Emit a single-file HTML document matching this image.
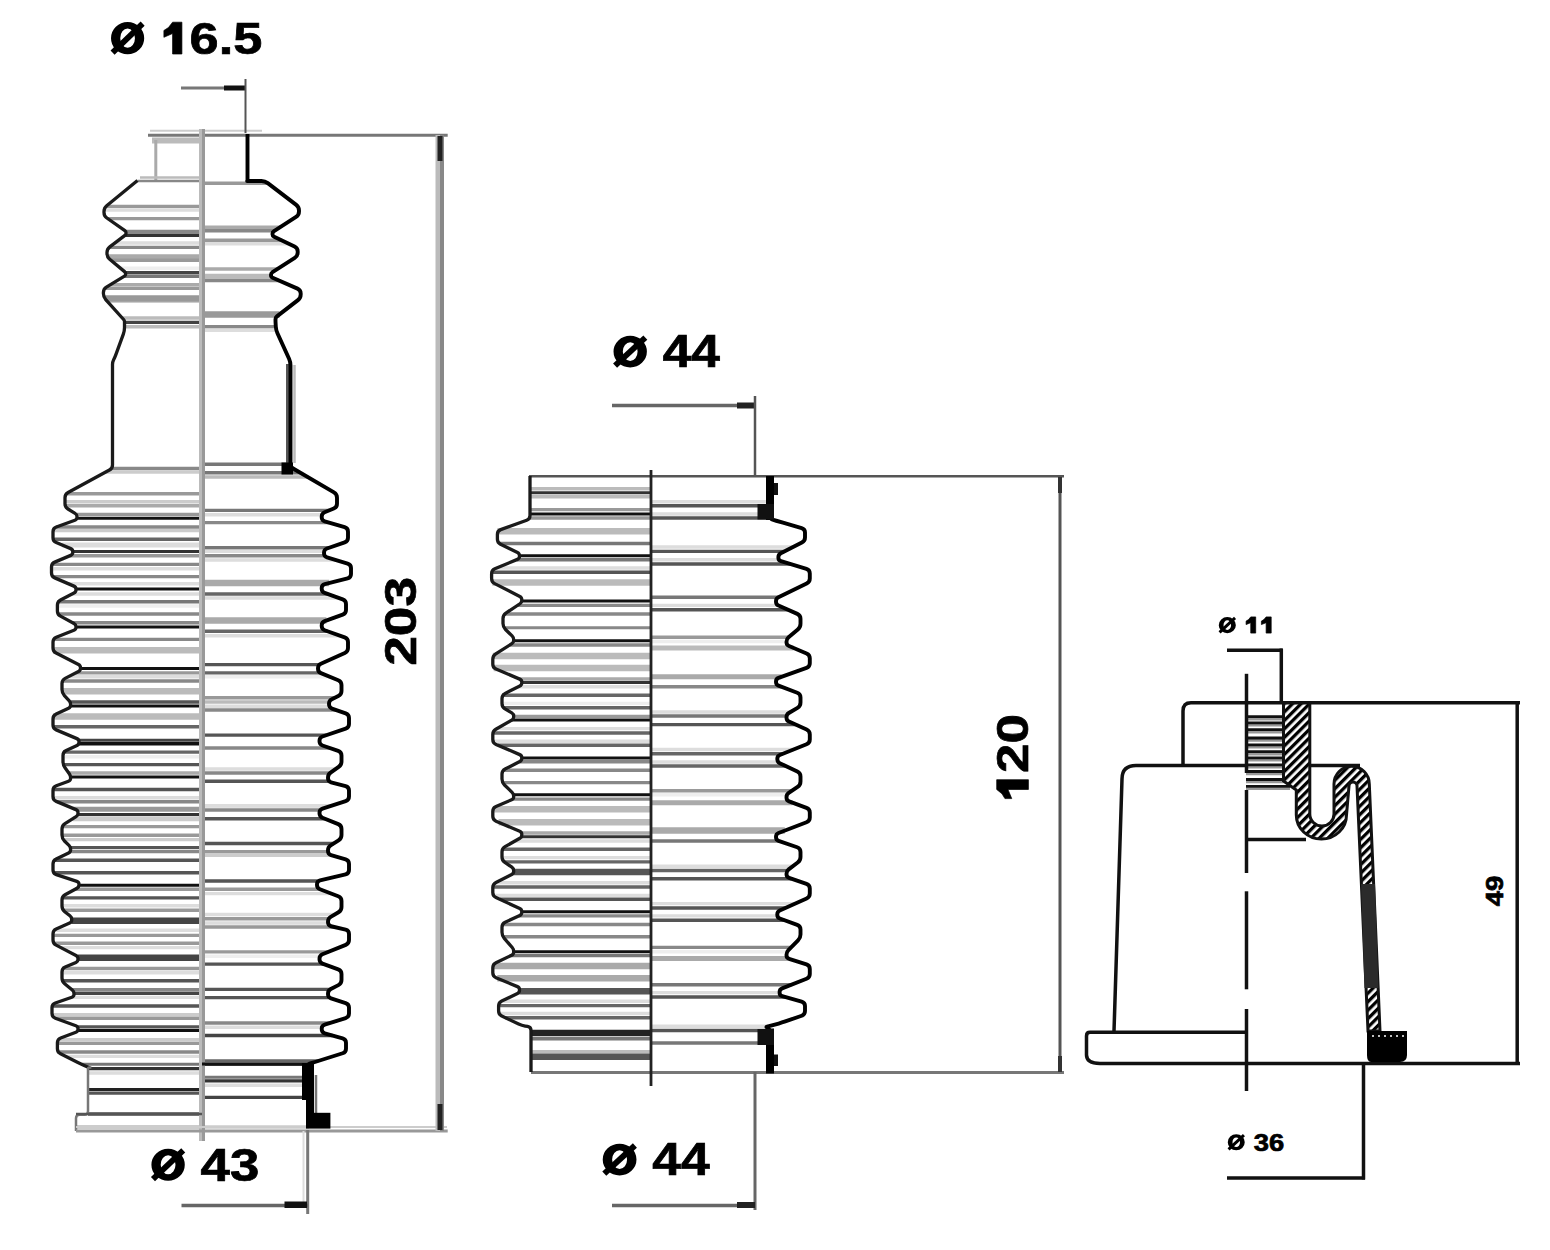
<!DOCTYPE html><html><head><meta charset="utf-8"><style>html,body{margin:0;padding:0;background:#fff;overflow:hidden}svg{display:block}</style></head><body>
<svg width="1550" height="1250" viewBox="0 0 1550 1250" shape-rendering="auto">
<defs><pattern id="hatch" patternUnits="userSpaceOnUse" width="6" height="6" patternTransform="rotate(-45)"><rect width="6" height="6" fill="#fff"/><rect x="0" y="0" width="6" height="3.3" fill="#000"/></pattern></defs>
<rect width="1550" height="1250" fill="#fff"/>
<line x1="150.0" y1="130.8" x2="262.0" y2="130.8" stroke="#ccc" stroke-width="2" />
<line x1="148.0" y1="135.2" x2="447.7" y2="135.2" stroke="#777" stroke-width="3" />
<rect x="152.0" y="137.5" width="50.0" height="6.0" fill="#bbb" />
<line x1="155.8" y1="140.0" x2="155.8" y2="180.0" stroke="#aaa" stroke-width="3" />
<line x1="140.0" y1="177.6" x2="202.0" y2="177.6" stroke="#bbb" stroke-width="2.5" />
<line x1="137.5" y1="181.0" x2="202.0" y2="181.0" stroke="#888" stroke-width="2.5" />
<line x1="105.9" y1="206.4" x2="202.5" y2="206.4" stroke="#999" stroke-width="3.4" />
<line x1="104.0" y1="210.0" x2="202.5" y2="210.0" stroke="#ddd" stroke-width="3.4" />
<line x1="107.7" y1="218.6" x2="202.5" y2="218.6" stroke="#999" stroke-width="3.4" />
<line x1="126.0" y1="231.5" x2="202.5" y2="231.5" stroke="#888" stroke-width="3.4" />
<line x1="125.1" y1="235.2" x2="202.5" y2="235.2" stroke="#333" stroke-width="3.4" />
<line x1="114.9" y1="243.0" x2="202.5" y2="243.0" stroke="#ddd" stroke-width="3.4" />
<line x1="109.1" y1="247.4" x2="202.5" y2="247.4" stroke="#888" stroke-width="3.4" />
<line x1="107.0" y1="256.7" x2="202.5" y2="256.7" stroke="#aaa" stroke-width="5" />
<line x1="111.0" y1="260.3" x2="202.5" y2="260.3" stroke="#999" stroke-width="3.4" />
<line x1="120.6" y1="268.3" x2="202.5" y2="268.3" stroke="#eee" stroke-width="3.4" />
<line x1="125.6" y1="272.6" x2="202.5" y2="272.6" stroke="#444" stroke-width="3.4" />
<line x1="124.4" y1="276.2" x2="202.5" y2="276.2" stroke="#777" stroke-width="3.4" />
<line x1="110.3" y1="284.8" x2="202.5" y2="284.8" stroke="#aaa" stroke-width="3.4" />
<line x1="104.4" y1="288.4" x2="202.5" y2="288.4" stroke="#999" stroke-width="3.4" />
<line x1="104.1" y1="297.8" x2="202.5" y2="297.8" stroke="#999" stroke-width="5" />
<line x1="107.4" y1="301.4" x2="202.5" y2="301.4" stroke="#ccc" stroke-width="3.4" />
<line x1="105.5" y1="299.3" x2="202.5" y2="299.3" stroke="#999" stroke-width="5" />
<line x1="122.3" y1="318.0" x2="202.5" y2="318.0" stroke="#bbb" stroke-width="3.4" />
<line x1="124.5" y1="322.4" x2="202.5" y2="322.4" stroke="#444" stroke-width="3.4" />
<line x1="124.5" y1="326.7" x2="202.5" y2="326.7" stroke="#bbb" stroke-width="3.4" />
<line x1="112.3" y1="468.5" x2="202.5" y2="468.5" stroke="#888" stroke-width="3.4" />
<line x1="105.9" y1="472.0" x2="202.5" y2="472.0" stroke="#ccc" stroke-width="3.4" />
<line x1="65.7" y1="493.8" x2="202.5" y2="493.8" stroke="#999" stroke-width="3.4" />
<line x1="65.0" y1="501.8" x2="202.5" y2="501.8" stroke="#ccc" stroke-width="3.4" />
<line x1="65.0" y1="505.8" x2="202.5" y2="505.8" stroke="#aaa" stroke-width="3.4" />
<line x1="76.8" y1="514.4" x2="202.5" y2="514.4" stroke="#999" stroke-width="3.4" />
<line x1="77.0" y1="518.3" x2="202.5" y2="518.3" stroke="#111" stroke-width="3" />
<line x1="56.3" y1="527.0" x2="202.5" y2="527.0" stroke="#888" stroke-width="3.4" />
<line x1="53.0" y1="530.6" x2="202.5" y2="530.6" stroke="#ccc" stroke-width="3.4" />
<line x1="53.0" y1="539.2" x2="202.5" y2="539.2" stroke="#666" stroke-width="3.4" />
<line x1="62.1" y1="545.0" x2="202.5" y2="545.0" stroke="#ddd" stroke-width="5" />
<line x1="72.8" y1="551.4" x2="202.5" y2="551.4" stroke="#333" stroke-width="3" />
<line x1="69.7" y1="555.8" x2="202.5" y2="555.8" stroke="#999" stroke-width="3.4" />
<line x1="51.5" y1="564.4" x2="202.5" y2="564.4" stroke="#888" stroke-width="3.4" />
<line x1="51.5" y1="568.7" x2="202.5" y2="568.7" stroke="#ddd" stroke-width="3.4" />
<line x1="51.7" y1="576.6" x2="202.5" y2="576.6" stroke="#888" stroke-width="3.4" />
<line x1="68.5" y1="583.8" x2="202.5" y2="583.8" stroke="#ddd" stroke-width="3.4" />
<line x1="76.0" y1="588.9" x2="202.5" y2="588.9" stroke="#111" stroke-width="3" />
<line x1="72.1" y1="594.0" x2="202.5" y2="594.0" stroke="#ddd" stroke-width="3.4" />
<line x1="57.4" y1="601.8" x2="202.5" y2="601.8" stroke="#777" stroke-width="3.4" />
<line x1="57.4" y1="606.0" x2="202.5" y2="606.0" stroke="#eee" stroke-width="3.4" />
<line x1="57.4" y1="614.0" x2="202.5" y2="614.0" stroke="#888" stroke-width="3.4" />
<line x1="72.7" y1="622.7" x2="202.5" y2="622.7" stroke="#888" stroke-width="3.4" />
<line x1="76.0" y1="627.0" x2="202.5" y2="627.0" stroke="#111" stroke-width="3" />
<line x1="53.0" y1="639.4" x2="202.5" y2="639.4" stroke="#888" stroke-width="3.4" />
<line x1="53.0" y1="650.2" x2="202.5" y2="650.2" stroke="#bbb" stroke-width="6.5" />
<line x1="80.5" y1="668.6" x2="202.5" y2="668.6" stroke="#111" stroke-width="3" />
<line x1="75.8" y1="672.9" x2="202.5" y2="672.9" stroke="#999" stroke-width="3.4" />
<line x1="68.2" y1="676.8" x2="202.5" y2="676.8" stroke="#ddd" stroke-width="3.4" />
<line x1="62.0" y1="681.0" x2="202.5" y2="681.0" stroke="#888" stroke-width="3.4" />
<line x1="62.0" y1="691.2" x2="202.5" y2="691.2" stroke="#bbb" stroke-width="6.5" />
<line x1="70.4" y1="702.0" x2="202.5" y2="702.0" stroke="#555" stroke-width="3.4" />
<line x1="70.6" y1="706.0" x2="202.5" y2="706.0" stroke="#111" stroke-width="3" />
<line x1="53.0" y1="716.4" x2="202.5" y2="716.4" stroke="#bbb" stroke-width="6.5" />
<line x1="53.0" y1="726.8" x2="202.5" y2="726.8" stroke="#666" stroke-width="3.4" />
<line x1="79.0" y1="740.2" x2="202.5" y2="740.2" stroke="#444" stroke-width="3" />
<line x1="79.0" y1="743.8" x2="202.5" y2="743.8" stroke="#111" stroke-width="3.4" />
<line x1="63.0" y1="752.1" x2="202.5" y2="752.1" stroke="#666" stroke-width="3.4" />
<line x1="63.0" y1="756.7" x2="202.5" y2="756.7" stroke="#eee" stroke-width="3.4" />
<line x1="63.0" y1="764.6" x2="202.5" y2="764.6" stroke="#555" stroke-width="3.4" />
<line x1="68.8" y1="773.0" x2="202.5" y2="773.0" stroke="#aaa" stroke-width="3.4" />
<line x1="70.6" y1="776.9" x2="202.5" y2="776.9" stroke="#111" stroke-width="3" />
<line x1="53.0" y1="789.5" x2="202.5" y2="789.5" stroke="#555" stroke-width="3.4" />
<line x1="53.0" y1="797.7" x2="202.5" y2="797.7" stroke="#ddd" stroke-width="3.4" />
<line x1="57.3" y1="801.8" x2="202.5" y2="801.8" stroke="#888" stroke-width="3.4" />
<line x1="73.2" y1="808.5" x2="202.5" y2="808.5" stroke="#999" stroke-width="3.4" />
<line x1="76.8" y1="810.0" x2="202.5" y2="810.0" stroke="#999" stroke-width="3.4" />
<line x1="78.0" y1="814.4" x2="202.5" y2="814.4" stroke="#333" stroke-width="3" />
<line x1="72.9" y1="818.7" x2="202.5" y2="818.7" stroke="#ccc" stroke-width="5" />
<line x1="62.0" y1="826.6" x2="202.5" y2="826.6" stroke="#999" stroke-width="3.4" />
<line x1="62.0" y1="835.3" x2="202.5" y2="835.3" stroke="#999" stroke-width="3.4" />
<line x1="63.1" y1="839.6" x2="202.5" y2="839.6" stroke="#ccc" stroke-width="3.4" />
<line x1="70.6" y1="847.5" x2="202.5" y2="847.5" stroke="#555" stroke-width="3" />
<line x1="70.6" y1="851.5" x2="202.5" y2="851.5" stroke="#888" stroke-width="3.4" />
<line x1="53.6" y1="860.2" x2="202.5" y2="860.2" stroke="#555" stroke-width="3.4" />
<line x1="53.0" y1="872.7" x2="202.5" y2="872.7" stroke="#555" stroke-width="3.4" />
<line x1="79.0" y1="885.2" x2="202.5" y2="885.2" stroke="#111" stroke-width="3" />
<line x1="75.0" y1="889.3" x2="202.5" y2="889.3" stroke="#999" stroke-width="3.4" />
<line x1="62.0" y1="897.9" x2="202.5" y2="897.9" stroke="#555" stroke-width="3.4" />
<line x1="62.0" y1="905.8" x2="202.5" y2="905.8" stroke="#ddd" stroke-width="3.4" />
<line x1="62.9" y1="910.2" x2="202.5" y2="910.2" stroke="#999" stroke-width="3.4" />
<line x1="71.7" y1="920.7" x2="202.5" y2="920.7" stroke="#444" stroke-width="6.5" />
<line x1="53.5" y1="930.3" x2="202.5" y2="930.3" stroke="#ddd" stroke-width="3.4" />
<line x1="53.0" y1="935.4" x2="202.5" y2="935.4" stroke="#999" stroke-width="3.4" />
<line x1="53.0" y1="943.3" x2="202.5" y2="943.3" stroke="#999" stroke-width="3.4" />
<line x1="60.9" y1="947.6" x2="202.5" y2="947.6" stroke="#ddd" stroke-width="3.4" />
<line x1="78.0" y1="957.7" x2="202.5" y2="957.7" stroke="#444" stroke-width="6.5" />
<line x1="62.0" y1="968.5" x2="202.5" y2="968.5" stroke="#999" stroke-width="3.4" />
<line x1="62.0" y1="972.8" x2="202.5" y2="972.8" stroke="#ddd" stroke-width="3.4" />
<line x1="62.0" y1="980.8" x2="202.5" y2="980.8" stroke="#555" stroke-width="3.4" />
<line x1="71.5" y1="989.4" x2="202.5" y2="989.4" stroke="#888" stroke-width="3" />
<line x1="74.0" y1="993.3" x2="202.5" y2="993.3" stroke="#444" stroke-width="3.4" />
<line x1="71.4" y1="997.4" x2="202.5" y2="997.4" stroke="#ddd" stroke-width="3.4" />
<line x1="52.0" y1="1006.0" x2="202.5" y2="1006.0" stroke="#555" stroke-width="3.4" />
<line x1="52.0" y1="1014.6" x2="202.5" y2="1014.6" stroke="#ccc" stroke-width="3.4" />
<line x1="55.0" y1="1018.2" x2="202.5" y2="1018.2" stroke="#999" stroke-width="3.4" />
<line x1="78.0" y1="1026.9" x2="202.5" y2="1026.9" stroke="#555" stroke-width="3.4" />
<line x1="78.0" y1="1030.5" x2="202.5" y2="1030.5" stroke="#111" stroke-width="3" />
<line x1="57.4" y1="1039.8" x2="202.5" y2="1039.8" stroke="#ccc" stroke-width="3.4" />
<line x1="57.4" y1="1043.4" x2="202.5" y2="1043.4" stroke="#999" stroke-width="3.4" />
<line x1="57.4" y1="1052.0" x2="202.5" y2="1052.0" stroke="#888" stroke-width="3.4" />
<line x1="65.8" y1="1056.4" x2="202.5" y2="1056.4" stroke="#ddd" stroke-width="3.4" />
<line x1="81.7" y1="1064.3" x2="202.5" y2="1064.3" stroke="#777" stroke-width="3" />
<line x1="88.0" y1="1068.6" x2="202.5" y2="1068.6" stroke="#333" stroke-width="3.4" />
<line x1="88.0" y1="1073.0" x2="202.5" y2="1073.0" stroke="#ddd" stroke-width="3.4" />
<line x1="88.0" y1="1089.5" x2="202.5" y2="1089.5" stroke="#222" stroke-width="3" />
<line x1="88.0" y1="1093.1" x2="202.5" y2="1093.1" stroke="#555" stroke-width="3.4" />
<line x1="88.0" y1="1114.0" x2="202.5" y2="1114.0" stroke="#555" stroke-width="3.4" />
<line x1="76.0" y1="1127.0" x2="202.5" y2="1127.0" stroke="#bbb" stroke-width="3.4" />
<line x1="202.5" y1="183.3" x2="268.0" y2="183.3" stroke="#999" stroke-width="3.4" />
<line x1="202.5" y1="227.2" x2="280.0" y2="227.2" stroke="#aaa" stroke-width="3.4" />
<line x1="202.5" y1="230.8" x2="274.4" y2="230.8" stroke="#888" stroke-width="3.4" />
<line x1="202.5" y1="240.2" x2="281.3" y2="240.2" stroke="#999" stroke-width="3.4" />
<line x1="202.5" y1="243.8" x2="288.9" y2="243.8" stroke="#ddd" stroke-width="3.4" />
<line x1="202.5" y1="269.0" x2="277.3" y2="269.0" stroke="#aaa" stroke-width="3.4" />
<line x1="202.5" y1="276.2" x2="271.0" y2="276.2" stroke="#bbb" stroke-width="5" />
<line x1="202.5" y1="280.5" x2="279.0" y2="280.5" stroke="#888" stroke-width="3.4" />
<line x1="202.5" y1="314.4" x2="279.5" y2="314.4" stroke="#999" stroke-width="6.5" />
<line x1="202.5" y1="326.7" x2="275.8" y2="326.7" stroke="#888" stroke-width="3.4" />
<line x1="202.5" y1="330.3" x2="276.1" y2="330.3" stroke="#ddd" stroke-width="3.4" />
<line x1="202.5" y1="464.2" x2="290.5" y2="464.2" stroke="#777" stroke-width="3.4" />
<line x1="202.5" y1="472.8" x2="300.4" y2="472.8" stroke="#777" stroke-width="3.4" />
<line x1="202.5" y1="477.0" x2="307.6" y2="477.0" stroke="#bbb" stroke-width="3.4" />
<line x1="202.5" y1="510.4" x2="329.2" y2="510.4" stroke="#777" stroke-width="3.4" />
<line x1="202.5" y1="514.7" x2="321.7" y2="514.7" stroke="#ddd" stroke-width="3.4" />
<line x1="202.5" y1="522.6" x2="328.9" y2="522.6" stroke="#888" stroke-width="3.4" />
<line x1="202.5" y1="547.8" x2="328.9" y2="547.8" stroke="#777" stroke-width="3.4" />
<line x1="202.5" y1="551.4" x2="324.0" y2="551.4" stroke="#ddd" stroke-width="3.4" />
<line x1="202.5" y1="555.8" x2="324.0" y2="555.8" stroke="#888" stroke-width="3.4" />
<line x1="202.5" y1="560.0" x2="335.8" y2="560.0" stroke="#ddd" stroke-width="3.4" />
<line x1="202.5" y1="583.0" x2="329.2" y2="583.0" stroke="#aaa" stroke-width="6.5" />
<line x1="202.5" y1="594.0" x2="327.6" y2="594.0" stroke="#666" stroke-width="3.4" />
<line x1="202.5" y1="598.0" x2="338.9" y2="598.0" stroke="#ddd" stroke-width="3.4" />
<line x1="202.5" y1="620.5" x2="326.4" y2="620.5" stroke="#aaa" stroke-width="6.5" />
<line x1="202.5" y1="631.3" x2="327.6" y2="631.3" stroke="#666" stroke-width="3.4" />
<line x1="202.5" y1="635.7" x2="340.1" y2="635.7" stroke="#ddd" stroke-width="3.4" />
<line x1="202.5" y1="664.6" x2="318.9" y2="664.6" stroke="#555" stroke-width="3.4" />
<line x1="202.5" y1="672.9" x2="320.2" y2="672.9" stroke="#666" stroke-width="3.4" />
<line x1="202.5" y1="676.8" x2="329.9" y2="676.8" stroke="#eee" stroke-width="3.4" />
<line x1="202.5" y1="697.7" x2="334.8" y2="697.7" stroke="#999" stroke-width="3.4" />
<line x1="202.5" y1="702.0" x2="329.0" y2="702.0" stroke="#bbb" stroke-width="3.4" />
<line x1="202.5" y1="706.3" x2="329.0" y2="706.3" stroke="#ddd" stroke-width="3.4" />
<line x1="202.5" y1="710.0" x2="336.1" y2="710.0" stroke="#888" stroke-width="3.4" />
<line x1="202.5" y1="735.1" x2="326.6" y2="735.1" stroke="#555" stroke-width="3.4" />
<line x1="202.5" y1="748.0" x2="329.9" y2="748.0" stroke="#888" stroke-width="3.4" />
<line x1="202.5" y1="769.0" x2="335.7" y2="769.0" stroke="#ddd" stroke-width="3.4" />
<line x1="202.5" y1="773.0" x2="330.1" y2="773.0" stroke="#888" stroke-width="3.4" />
<line x1="202.5" y1="781.2" x2="328.0" y2="781.2" stroke="#555" stroke-width="3.4" />
<line x1="202.5" y1="805.7" x2="331.3" y2="805.7" stroke="#ddd" stroke-width="3.4" />
<line x1="202.5" y1="806.0" x2="330.4" y2="806.0" stroke="#ddd" stroke-width="3.4" />
<line x1="202.5" y1="810.0" x2="319.5" y2="810.0" stroke="#888" stroke-width="3.4" />
<line x1="202.5" y1="818.7" x2="324.9" y2="818.7" stroke="#555" stroke-width="3.4" />
<line x1="202.5" y1="843.5" x2="333.7" y2="843.5" stroke="#555" stroke-width="3.4" />
<line x1="202.5" y1="851.8" x2="328.0" y2="851.8" stroke="#999" stroke-width="3.4" />
<line x1="202.5" y1="855.4" x2="332.3" y2="855.4" stroke="#ccc" stroke-width="3.4" />
<line x1="202.5" y1="881.0" x2="317.4" y2="881.0" stroke="#555" stroke-width="3.4" />
<line x1="202.5" y1="889.3" x2="320.1" y2="889.3" stroke="#999" stroke-width="3.4" />
<line x1="202.5" y1="893.6" x2="331.3" y2="893.6" stroke="#ddd" stroke-width="3.4" />
<line x1="202.5" y1="914.5" x2="334.8" y2="914.5" stroke="#ddd" stroke-width="3.4" />
<line x1="202.5" y1="918.8" x2="328.0" y2="918.8" stroke="#999" stroke-width="3.4" />
<line x1="202.5" y1="923.0" x2="328.0" y2="923.0" stroke="#ddd" stroke-width="3.4" />
<line x1="202.5" y1="927.0" x2="334.3" y2="927.0" stroke="#999" stroke-width="3.4" />
<line x1="202.5" y1="951.9" x2="328.4" y2="951.9" stroke="#999" stroke-width="3.4" />
<line x1="202.5" y1="956.2" x2="319.5" y2="956.2" stroke="#eee" stroke-width="3.4" />
<line x1="202.5" y1="964.1" x2="323.9" y2="964.1" stroke="#555" stroke-width="3.4" />
<line x1="202.5" y1="989.4" x2="330.1" y2="989.4" stroke="#555" stroke-width="3.4" />
<line x1="202.5" y1="997.6" x2="328.3" y2="997.6" stroke="#555" stroke-width="3.4" />
<line x1="202.5" y1="1023.0" x2="329.8" y2="1023.0" stroke="#888" stroke-width="3.4" />
<line x1="202.5" y1="1027.3" x2="321.7" y2="1027.3" stroke="#ddd" stroke-width="3.4" />
<line x1="202.5" y1="1035.5" x2="332.6" y2="1035.5" stroke="#444" stroke-width="3.4" />
<line x1="202.5" y1="1060.7" x2="319.1" y2="1060.7" stroke="#666" stroke-width="3" />
<line x1="202.5" y1="1064.3" x2="309.0" y2="1064.3" stroke="#111" stroke-width="3" />
<line x1="202.5" y1="1077.3" x2="309.0" y2="1077.3" stroke="#777" stroke-width="3" />
<line x1="202.5" y1="1080.9" x2="309.0" y2="1080.9" stroke="#333" stroke-width="3.4" />
<line x1="202.5" y1="1085.2" x2="309.0" y2="1085.2" stroke="#ddd" stroke-width="3.4" />
<line x1="202.5" y1="1097.4" x2="309.0" y2="1097.4" stroke="#444" stroke-width="3.4" />
<line x1="202.5" y1="1127.0" x2="309.0" y2="1127.0" stroke="#ccc" stroke-width="3.4" />
<rect x="199.0" y="129.0" width="3.0" height="1012.0" fill="#bbb" />
<rect x="202.0" y="129.0" width="3.0" height="1012.0" fill="#999" />
<path d="M 137.50,180.40 L 106.70,205.77 Q 104.00,208.00 104.00,211.50 L 104.00,212.50 Q 104.00,216.00 106.86,218.02 L 124.90,230.72 Q 126.00,231.50 126.00,232.85 L 126.00,233.15 Q 126.00,234.50 124.93,235.32 L 109.78,246.88 Q 107.00,249.00 107.00,252.50 L 107.00,253.50 Q 107.00,257.00 109.69,259.24 L 124.56,271.64 Q 125.60,272.50 125.60,273.85 L 125.60,274.15 Q 125.60,275.50 124.45,276.20 L 106.39,287.18 Q 103.40,289.00 103.40,292.50 L 103.40,293.50 Q 103.40,297.00 105.74,299.60 L 123.60,319.50 Q 124.50,320.50 124.50,321.85 L 124.50,322.15 Q 124.50,323.50 124.50,324.85 L 124.50,327.62 Q 124.50,331.00 123.34,334.17 L 115.86,354.64 Q 115.00,357.00 113.88,359.25 L 113.62,359.75 Q 112.50,362.00 112.50,364.52 L 112.50,464.90 Q 112.50,468.40 109.42,470.07 L 68.08,492.53 Q 65.00,494.20 65.00,497.70 L 65.00,503.70 Q 65.00,507.20 67.99,509.02 L 75.08,513.33 Q 77.00,514.50 77.00,516.75 L 77.00,517.25 Q 77.00,519.50 74.88,520.27 L 56.29,527.01 Q 53.00,528.20 53.00,531.70 L 53.00,537.70 Q 53.00,541.20 56.23,542.55 L 70.72,548.63 Q 72.80,549.50 72.80,551.75 L 72.80,552.25 Q 72.80,554.50 70.73,555.38 L 54.72,562.14 Q 51.50,563.50 51.50,567.00 L 51.50,573.00 Q 51.50,576.50 54.72,577.88 L 73.93,586.11 Q 76.00,587.00 76.00,589.25 L 76.00,589.75 Q 76.00,592.00 74.00,593.02 L 60.52,599.91 Q 57.40,601.50 57.40,605.00 L 57.40,611.00 Q 57.40,614.50 60.48,616.16 L 74.02,623.43 Q 76.00,624.50 76.00,626.75 L 76.00,627.25 Q 76.00,629.50 73.90,630.32 L 56.26,637.22 Q 53.00,638.50 53.00,642.00 L 53.00,648.00 Q 53.00,651.50 56.12,653.09 L 78.49,664.48 Q 80.50,665.50 80.50,667.75 L 80.50,668.25 Q 80.50,670.50 78.50,671.53 L 65.11,678.40 Q 62.00,680.00 62.00,683.50 L 62.00,689.50 Q 62.00,693.00 64.39,695.56 L 69.06,700.56 Q 70.60,702.20 70.60,704.45 L 70.60,704.95 Q 70.60,707.20 68.56,708.16 L 56.17,714.01 Q 53.00,715.50 53.00,719.00 L 53.00,725.00 Q 53.00,728.50 56.22,729.86 L 76.93,738.62 Q 79.00,739.50 79.00,741.75 L 79.00,742.25 Q 79.00,744.50 76.96,745.44 L 66.18,750.43 Q 63.00,751.90 63.00,755.40 L 63.00,761.40 Q 63.00,764.90 65.04,767.74 L 69.29,773.67 Q 70.60,775.50 70.60,777.75 L 70.60,778.25 Q 70.60,780.50 68.49,781.28 L 56.28,785.79 Q 53.00,787.00 53.00,790.50 L 53.00,796.50 Q 53.00,800.00 56.23,801.36 L 75.93,809.63 Q 78.00,810.50 78.00,812.75 L 78.00,813.25 Q 78.00,815.50 76.09,816.69 L 64.97,823.65 Q 62.00,825.50 62.00,829.00 L 62.00,835.00 Q 62.00,838.50 64.49,840.96 L 69.00,845.42 Q 70.60,847.00 70.60,849.25 L 70.60,849.75 Q 70.60,852.00 68.57,852.98 L 56.15,858.98 Q 53.00,860.50 53.00,864.00 L 53.00,870.00 Q 53.00,873.50 56.32,874.60 L 76.86,881.39 Q 79.00,882.10 79.00,884.35 L 79.00,884.85 Q 79.00,887.10 77.03,888.19 L 65.06,894.81 Q 62.00,896.50 62.00,900.00 L 62.00,906.00 Q 62.00,909.50 64.74,911.68 L 69.94,915.80 Q 71.70,917.20 71.70,919.45 L 71.70,919.95 Q 71.70,922.20 69.64,923.11 L 56.20,929.08 Q 53.00,930.50 53.00,934.00 L 53.00,940.00 Q 53.00,943.50 56.11,945.11 L 76.00,955.46 Q 78.00,956.50 78.00,958.75 L 78.00,959.25 Q 78.00,961.50 75.94,962.40 L 65.21,967.10 Q 62.00,968.50 62.00,972.00 L 62.00,978.00 Q 62.00,981.50 64.69,983.74 L 72.27,990.06 Q 74.00,991.50 74.00,993.75 L 74.00,994.25 Q 74.00,996.50 71.87,997.23 L 55.31,1002.96 Q 52.00,1004.10 52.00,1007.60 L 52.00,1013.60 Q 52.00,1017.10 55.29,1018.29 L 75.88,1025.74 Q 78.00,1026.50 78.00,1028.75 L 78.00,1029.25 Q 78.00,1031.50 75.89,1032.29 L 60.68,1037.97 Q 57.40,1039.20 57.40,1042.70 L 57.40,1048.70 Q 57.40,1052.20 60.53,1053.77 L 77.87,1062.43 Q 81.00,1064.00 84.20,1065.42 L 90.00,1068.00" fill="none" stroke="#1a1a1a" stroke-width="3.3" stroke-linejoin="round" />
<path d="M 91.40,1067.60 L 89.53,1067.60 Q 88.00,1067.60 88.00,1069.13 L 88.00,1111.30 Q 88.00,1114.80 84.50,1114.80 L 79.50,1114.80 Q 76.00,1114.80 76.00,1118.30 L 76.00,1131.00" fill="none" stroke="#777" stroke-width="2.5" stroke-linejoin="round" />
<line x1="76.0" y1="1114.0" x2="202.0" y2="1114.0" stroke="#555" stroke-width="2.5" />
<line x1="76.0" y1="1127.0" x2="447.0" y2="1127.0" stroke="#ccc" stroke-width="2" />
<line x1="76.0" y1="1131.0" x2="447.7" y2="1131.0" stroke="#999" stroke-width="3" />
<rect x="286.0" y="364.0" width="3.0" height="100.0" fill="#555" />
<line x1="294.5" y1="365.0" x2="294.5" y2="463.0" stroke="#bbb" stroke-width="2.5" />
<path d="M 247.50,134.00 L 247.50,180.78 Q 247.50,181.00 247.28,181.00 L 247.22,181.00 Q 247.00,181.00 247.22,181.00 L 261.50,181.00 Q 265.00,181.00 267.78,183.13 L 296.22,204.87 Q 299.00,207.00 299.00,210.50 L 299.00,211.50 Q 299.00,215.00 296.05,216.89 L 274.02,231.03 Q 272.50,232.00 272.50,233.80 L 272.50,234.20 Q 272.50,236.00 274.13,236.77 L 294.54,246.50 Q 297.70,248.00 297.70,251.50 L 297.70,252.50 Q 297.70,256.00 294.75,257.88 L 272.52,272.03 Q 271.00,273.00 271.00,274.80 L 271.00,275.20 Q 271.00,277.00 272.65,277.72 L 297.49,288.60 Q 300.70,290.00 300.70,293.50 L 300.70,294.50 Q 300.70,298.00 297.93,300.14 L 276.92,316.40 Q 275.50,317.50 275.50,319.30 L 275.50,319.70 Q 275.50,321.50 275.61,323.30 L 275.79,326.51 Q 276.00,330.00 277.44,333.19 L 289.06,358.81 Q 290.50,362.00 290.50,365.50 L 290.50,463.50 Q 290.50,467.00 293.52,468.77 L 333.98,492.43 Q 337.00,494.20 337.00,497.70 L 337.00,503.70 Q 337.00,507.20 333.76,508.53 L 324.61,512.30 Q 321.70,513.50 321.70,516.65 L 321.70,517.35 Q 321.70,520.50 324.72,521.39 L 344.64,527.22 Q 348.00,528.20 348.00,531.70 L 348.00,537.70 Q 348.00,541.20 344.69,542.34 L 326.98,548.47 Q 324.00,549.50 324.00,552.65 L 324.00,553.35 Q 324.00,556.50 327.02,557.39 L 347.64,563.51 Q 351.00,564.50 351.00,568.00 L 351.00,574.00 Q 351.00,577.50 347.61,578.36 L 324.75,584.13 Q 321.70,584.90 321.70,588.05 L 321.70,588.75 Q 321.70,591.90 324.67,592.95 L 342.70,599.33 Q 346.00,600.50 346.00,604.00 L 346.00,610.00 Q 346.00,613.50 342.70,614.68 L 324.67,621.14 Q 321.70,622.20 321.70,625.35 L 321.70,626.05 Q 321.70,629.20 324.67,630.25 L 344.70,637.33 Q 348.00,638.50 348.00,642.00 L 348.00,648.00 Q 348.00,651.50 344.81,652.94 L 320.87,663.71 Q 318.00,665.00 318.00,668.15 L 318.00,668.85 Q 318.00,672.00 320.92,673.18 L 338.26,680.19 Q 341.50,681.50 341.50,685.00 L 341.50,691.00 Q 341.50,694.50 338.34,696.01 L 331.84,699.14 Q 329.00,700.50 329.00,703.65 L 329.00,704.35 Q 329.00,707.50 331.97,708.54 L 345.70,713.34 Q 349.00,714.50 349.00,718.00 L 349.00,724.00 Q 349.00,727.50 345.69,728.62 L 322.48,736.49 Q 319.50,737.50 319.50,740.65 L 319.50,741.35 Q 319.50,744.50 322.49,745.50 L 338.18,750.78 Q 341.50,751.90 341.50,755.40 L 341.50,761.40 Q 341.50,764.90 338.65,766.93 L 330.57,772.67 Q 328.00,774.50 328.00,777.65 L 328.00,778.35 Q 328.00,781.50 331.05,782.30 L 345.61,786.11 Q 349.00,787.00 349.00,790.50 L 349.00,796.50 Q 349.00,800.00 345.67,801.07 L 322.50,808.53 Q 319.50,809.50 319.50,812.65 L 319.50,813.35 Q 319.50,816.50 322.42,817.69 L 338.26,824.17 Q 341.50,825.50 341.50,829.00 L 341.50,835.00 Q 341.50,838.50 338.55,840.38 L 330.66,845.41 Q 328.00,847.10 328.00,850.25 L 328.00,850.95 Q 328.00,854.10 331.01,855.02 L 345.65,859.48 Q 349.00,860.50 349.00,864.00 L 349.00,870.00 Q 349.00,873.50 345.59,874.31 L 320.06,880.37 Q 317.00,881.10 317.00,884.25 L 317.00,884.95 Q 317.00,888.10 319.94,889.23 L 338.23,896.25 Q 341.50,897.50 341.50,901.00 L 341.50,907.00 Q 341.50,910.50 338.49,912.28 L 330.71,916.89 Q 328.00,918.50 328.00,921.65 L 328.00,922.35 Q 328.00,925.50 331.06,926.23 L 345.60,929.69 Q 349.00,930.50 349.00,934.00 L 349.00,940.00 Q 349.00,943.50 345.76,944.82 L 322.42,954.31 Q 319.50,955.50 319.50,958.65 L 319.50,959.35 Q 319.50,962.50 322.46,963.58 L 338.21,969.30 Q 341.50,970.50 341.50,974.00 L 341.50,980.00 Q 341.50,983.50 338.39,985.11 L 330.80,989.05 Q 328.00,990.50 328.00,993.65 L 328.00,994.35 Q 328.00,997.50 331.01,998.44 L 345.66,1003.05 Q 349.00,1004.10 349.00,1007.60 L 349.00,1013.60 Q 349.00,1017.10 345.65,1018.13 L 324.71,1024.57 Q 321.70,1025.50 321.70,1028.65 L 321.70,1029.35 Q 321.70,1032.50 324.74,1033.34 L 342.63,1038.27 Q 346.00,1039.20 346.00,1042.70 L 346.00,1048.70 Q 346.00,1052.20 342.66,1053.25 L 318.12,1061.01 Q 315.00,1062.00 311.85,1062.90 L 308.00,1064.00" fill="none" stroke="#000" stroke-width="3.9" stroke-linejoin="round" />
<rect x="281.5" y="462.5" width="11.5" height="12.0" fill="#000" />
<line x1="202.0" y1="1064.0" x2="309.0" y2="1064.0" stroke="#111" stroke-width="3" />
<rect x="302.0" y="1063.0" width="12.0" height="37.0" fill="#000" />
<rect x="306.0" y="1099.0" width="8.0" height="15.0" fill="#000" />
<line x1="316.0" y1="1075.0" x2="316.0" y2="1113.0" stroke="#777" stroke-width="2.5" />
<rect x="306.0" y="1112.8" width="24.4" height="15.8" fill="#000" />
<line x1="181.0" y1="88.0" x2="246.0" y2="88.0" stroke="#777" stroke-width="3" />
<rect x="224.0" y="85.5" width="21.0" height="5.0" fill="#111" />
<line x1="245.5" y1="79.0" x2="245.5" y2="133.0" stroke="#555" stroke-width="2" />
<rect x="435.5" y="135.0" width="4.5" height="996.0" fill="#bbb" />
<rect x="440.0" y="135.0" width="4.0" height="996.0" fill="#888" />
<rect x="437.5" y="136.0" width="5.0" height="25.0" fill="#222" />
<rect x="437.5" y="1104.0" width="5.0" height="26.0" fill="#222" />
<line x1="303.5" y1="1131.0" x2="303.5" y2="1208.0" stroke="#ddd" stroke-width="2" />
<line x1="307.7" y1="1130.0" x2="307.7" y2="1214.0" stroke="#777" stroke-width="3" />
<line x1="181.5" y1="1205.6" x2="308.0" y2="1205.6" stroke="#666" stroke-width="3.5" />
<rect x="284.5" y="1201.5" width="22.5" height="6.5" fill="#111" />
<path fill="#000" fill-rule="evenodd" d="M 111.01,38.15 A 16.59,16.22 0 1 0 144.19,38.15 A 16.59,16.22 0 1 0 111.01,38.15 Z M 120.25,38.15 A 7.35,9.60 0 1 0 134.95,38.15 A 7.35,9.60 0 1 0 120.25,38.15 Z"/>
<line x1="112.56" y1="52.64" x2="142.64" y2="23.66" stroke="#000" stroke-width="5.81"/>
<polygon points="172.59,22.20 181.90,22.20 181.90,54.00 172.59,54.00 172.59,33.49 163.90,37.30 163.90,30.47 168.49,27.51" fill="#000" stroke="#000" stroke-width="0.7" stroke-linejoin="round"/>
<text transform="translate(189.61,53.55) scale(0.5235,0.4479)" x="0" y="0" font-family="Liberation Sans" font-weight="bold" font-size="100" fill="#000" stroke="#000" stroke-width="1.56">6.5</text>
<text transform="translate(415.85,665.80) rotate(-90) scale(0.5325,0.4507)" x="0" y="0" font-family="Liberation Sans" font-weight="bold" font-size="100" fill="#000" stroke="#000" stroke-width="1.55">203</text>
<path fill="#000" fill-rule="evenodd" d="M 151.42,1164.75 A 16.68,16.02 0 1 0 184.78,1164.75 A 16.68,16.02 0 1 0 151.42,1164.75 Z M 160.70,1164.75 A 7.40,9.48 0 1 0 175.50,1164.75 A 7.40,9.48 0 1 0 160.70,1164.75 Z"/>
<line x1="152.97" y1="1179.03" x2="183.23" y2="1150.47" stroke="#000" stroke-width="5.85"/>
<text transform="translate(200.54,1180.65) scale(0.5276,0.4549)" x="0" y="0" font-family="Liberation Sans" font-weight="bold" font-size="100" fill="#000" stroke="#000" stroke-width="1.54">43</text>
<line x1="529.0" y1="476.2" x2="1064.0" y2="476.2" stroke="#555" stroke-width="2.5" />
<line x1="530.0" y1="488.8" x2="651.0" y2="488.8" stroke="#bbb" stroke-width="3.4" />
<line x1="530.0" y1="492.8" x2="651.0" y2="492.8" stroke="#333" stroke-width="3" />
<line x1="530.0" y1="496.7" x2="651.0" y2="496.7" stroke="#bbb" stroke-width="3.4" />
<line x1="530.0" y1="509.6" x2="651.0" y2="509.6" stroke="#999" stroke-width="3.4" />
<line x1="530.0" y1="514.0" x2="651.0" y2="514.0" stroke="#111" stroke-width="3" />
<line x1="530.0" y1="518.0" x2="651.0" y2="518.0" stroke="#999" stroke-width="3.4" />
<line x1="497.4" y1="531.2" x2="651.0" y2="531.2" stroke="#bbb" stroke-width="6.5" />
<line x1="498.8" y1="543.5" x2="651.0" y2="543.5" stroke="#777" stroke-width="3.4" />
<line x1="519.5" y1="555.7" x2="651.0" y2="555.7" stroke="#111" stroke-width="3" />
<line x1="516.6" y1="559.7" x2="651.0" y2="559.7" stroke="#777" stroke-width="3.4" />
<line x1="496.5" y1="568.0" x2="651.0" y2="568.0" stroke="#ddd" stroke-width="3.4" />
<line x1="491.6" y1="572.3" x2="651.0" y2="572.3" stroke="#555" stroke-width="3.4" />
<line x1="492.4" y1="582.4" x2="651.0" y2="582.4" stroke="#bbb" stroke-width="6.5" />
<line x1="521.8" y1="601.0" x2="651.0" y2="601.0" stroke="#111" stroke-width="3" />
<line x1="517.4" y1="605.4" x2="651.0" y2="605.4" stroke="#888" stroke-width="3.4" />
<line x1="504.5" y1="614.0" x2="651.0" y2="614.0" stroke="#888" stroke-width="3.4" />
<line x1="503.7" y1="627.7" x2="651.0" y2="627.7" stroke="#888" stroke-width="3" />
<line x1="513.7" y1="640.7" x2="651.0" y2="640.7" stroke="#111" stroke-width="3" />
<line x1="509.7" y1="645.0" x2="651.0" y2="645.0" stroke="#888" stroke-width="3.4" />
<line x1="492.8" y1="655.9" x2="651.0" y2="655.9" stroke="#bbb" stroke-width="6.5" />
<line x1="493.7" y1="668.1" x2="651.0" y2="668.1" stroke="#bbb" stroke-width="6.5" />
<line x1="519.4" y1="679.0" x2="651.0" y2="679.0" stroke="#aaa" stroke-width="3.4" />
<line x1="521.8" y1="682.5" x2="651.0" y2="682.5" stroke="#333" stroke-width="3" />
<line x1="518.2" y1="686.8" x2="651.0" y2="686.8" stroke="#ddd" stroke-width="3.4" />
<line x1="502.0" y1="695.2" x2="651.0" y2="695.2" stroke="#666" stroke-width="3.4" />
<line x1="502.0" y1="703.4" x2="651.0" y2="703.4" stroke="#eee" stroke-width="3.4" />
<line x1="503.2" y1="707.7" x2="651.0" y2="707.7" stroke="#666" stroke-width="3.4" />
<line x1="513.7" y1="716.4" x2="651.0" y2="716.4" stroke="#999" stroke-width="3.4" />
<line x1="512.0" y1="720.0" x2="651.0" y2="720.0" stroke="#111" stroke-width="3" />
<line x1="497.0" y1="728.6" x2="651.0" y2="728.6" stroke="#ddd" stroke-width="3.4" />
<line x1="492.8" y1="733.0" x2="651.0" y2="733.0" stroke="#666" stroke-width="3.4" />
<line x1="492.8" y1="741.3" x2="651.0" y2="741.3" stroke="#ddd" stroke-width="3.4" />
<line x1="497.9" y1="745.2" x2="651.0" y2="745.2" stroke="#666" stroke-width="3.4" />
<line x1="521.8" y1="758.1" x2="651.0" y2="758.1" stroke="#111" stroke-width="3" />
<line x1="519.4" y1="761.7" x2="651.0" y2="761.7" stroke="#888" stroke-width="3.4" />
<line x1="502.6" y1="770.3" x2="651.0" y2="770.3" stroke="#888" stroke-width="3.4" />
<line x1="502.0" y1="782.6" x2="651.0" y2="782.6" stroke="#888" stroke-width="3.4" />
<line x1="513.7" y1="794.8" x2="651.0" y2="794.8" stroke="#111" stroke-width="3" />
<line x1="513.2" y1="799.1" x2="651.0" y2="799.1" stroke="#888" stroke-width="3.4" />
<line x1="492.8" y1="809.2" x2="651.0" y2="809.2" stroke="#bbb" stroke-width="6.5" />
<line x1="498.6" y1="822.3" x2="651.0" y2="822.3" stroke="#bbb" stroke-width="6.5" />
<line x1="521.8" y1="833.0" x2="651.0" y2="833.0" stroke="#aaa" stroke-width="3.4" />
<line x1="521.8" y1="836.7" x2="651.0" y2="836.7" stroke="#333" stroke-width="3" />
<line x1="515.1" y1="841.0" x2="651.0" y2="841.0" stroke="#ddd" stroke-width="3.4" />
<line x1="502.0" y1="849.3" x2="651.0" y2="849.3" stroke="#666" stroke-width="3.4" />
<line x1="502.0" y1="857.6" x2="651.0" y2="857.6" stroke="#ddd" stroke-width="3.4" />
<line x1="504.2" y1="861.9" x2="651.0" y2="861.9" stroke="#666" stroke-width="3.4" />
<line x1="513.7" y1="872.0" x2="651.0" y2="872.0" stroke="#555" stroke-width="6.5" />
<line x1="495.2" y1="882.8" x2="651.0" y2="882.8" stroke="#ddd" stroke-width="3.4" />
<line x1="492.8" y1="887.0" x2="651.0" y2="887.0" stroke="#666" stroke-width="3.4" />
<line x1="492.8" y1="895.4" x2="651.0" y2="895.4" stroke="#ddd" stroke-width="3.4" />
<line x1="499.9" y1="899.3" x2="651.0" y2="899.3" stroke="#555" stroke-width="3.4" />
<line x1="521.8" y1="911.8" x2="651.0" y2="911.8" stroke="#111" stroke-width="3" />
<line x1="518.8" y1="915.9" x2="651.0" y2="915.9" stroke="#888" stroke-width="3.4" />
<line x1="502.0" y1="924.5" x2="651.0" y2="924.5" stroke="#888" stroke-width="3.4" />
<line x1="503.0" y1="936.8" x2="651.0" y2="936.8" stroke="#888" stroke-width="3.4" />
<line x1="513.7" y1="951.7" x2="651.0" y2="951.7" stroke="#111" stroke-width="3" />
<line x1="510.8" y1="955.6" x2="651.0" y2="955.6" stroke="#777" stroke-width="3.4" />
<line x1="492.8" y1="966.1" x2="651.0" y2="966.1" stroke="#aaa" stroke-width="6.5" />
<line x1="497.3" y1="978.2" x2="651.0" y2="978.2" stroke="#aaa" stroke-width="6.5" />
<line x1="519.5" y1="991.2" x2="651.0" y2="991.2" stroke="#555" stroke-width="6.5" />
<line x1="501.3" y1="1001.3" x2="651.0" y2="1001.3" stroke="#ddd" stroke-width="3.4" />
<line x1="498.6" y1="1005.6" x2="651.0" y2="1005.6" stroke="#666" stroke-width="3.4" />
<line x1="498.6" y1="1013.5" x2="651.0" y2="1013.5" stroke="#ddd" stroke-width="3.4" />
<line x1="505.4" y1="1017.8" x2="651.0" y2="1017.8" stroke="#666" stroke-width="3.4" />
<line x1="531.0" y1="1033.0" x2="651.0" y2="1033.0" stroke="#222" stroke-width="6.5" />
<line x1="531.0" y1="1038.7" x2="651.0" y2="1038.7" stroke="#777" stroke-width="3.4" />
<line x1="531.0" y1="1051.7" x2="651.0" y2="1051.7" stroke="#bbb" stroke-width="3.4" />
<line x1="531.0" y1="1056.7" x2="651.0" y2="1056.7" stroke="#555" stroke-width="6.5" />
<line x1="651.0" y1="501.7" x2="770.0" y2="501.7" stroke="#ddd" stroke-width="3.4" />
<line x1="651.0" y1="505.7" x2="770.0" y2="505.7" stroke="#555" stroke-width="3.4" />
<line x1="651.0" y1="514.0" x2="770.0" y2="514.0" stroke="#ddd" stroke-width="3.4" />
<line x1="651.0" y1="518.0" x2="770.0" y2="518.0" stroke="#555" stroke-width="3.4" />
<line x1="651.0" y1="547.0" x2="793.1" y2="547.0" stroke="#ddd" stroke-width="3.4" />
<line x1="651.0" y1="551.4" x2="784.4" y2="551.4" stroke="#555" stroke-width="3.4" />
<line x1="651.0" y1="559.7" x2="778.4" y2="559.7" stroke="#ddd" stroke-width="3.4" />
<line x1="651.0" y1="564.0" x2="790.2" y2="564.0" stroke="#555" stroke-width="3.4" />
<line x1="651.0" y1="597.2" x2="778.7" y2="597.2" stroke="#777" stroke-width="3.4" />
<line x1="651.0" y1="605.4" x2="778.0" y2="605.4" stroke="#ddd" stroke-width="3.4" />
<line x1="651.0" y1="609.7" x2="787.8" y2="609.7" stroke="#555" stroke-width="3.4" />
<line x1="651.0" y1="637.2" x2="788.7" y2="637.2" stroke="#999" stroke-width="3.4" />
<line x1="651.0" y1="641.5" x2="786.5" y2="641.5" stroke="#eee" stroke-width="3.4" />
<line x1="651.0" y1="648.0" x2="793.6" y2="648.0" stroke="#bbb" stroke-width="5" />
<line x1="651.0" y1="676.8" x2="781.4" y2="676.8" stroke="#aaa" stroke-width="5" />
<line x1="651.0" y1="686.8" x2="781.5" y2="686.8" stroke="#888" stroke-width="3.4" />
<line x1="651.0" y1="712.0" x2="790.5" y2="712.0" stroke="#ddd" stroke-width="3.4" />
<line x1="651.0" y1="716.0" x2="786.5" y2="716.0" stroke="#777" stroke-width="3.4" />
<line x1="651.0" y1="724.6" x2="795.7" y2="724.6" stroke="#555" stroke-width="3.4" />
<line x1="651.0" y1="749.5" x2="793.5" y2="749.5" stroke="#ddd" stroke-width="3.4" />
<line x1="651.0" y1="753.8" x2="782.8" y2="753.8" stroke="#666" stroke-width="3.4" />
<line x1="651.0" y1="762.0" x2="777.3" y2="762.0" stroke="#ddd" stroke-width="3.4" />
<line x1="651.0" y1="766.0" x2="785.7" y2="766.0" stroke="#666" stroke-width="3.4" />
<line x1="651.0" y1="790.8" x2="792.0" y2="790.8" stroke="#999" stroke-width="3.4" />
<line x1="651.0" y1="794.8" x2="786.5" y2="794.8" stroke="#eee" stroke-width="3.4" />
<line x1="651.0" y1="802.7" x2="792.5" y2="802.7" stroke="#aaa" stroke-width="5" />
<line x1="651.0" y1="830.6" x2="784.8" y2="830.6" stroke="#aaa" stroke-width="6.5" />
<line x1="651.0" y1="841.0" x2="778.9" y2="841.0" stroke="#777" stroke-width="3.4" />
<line x1="651.0" y1="866.2" x2="792.8" y2="866.2" stroke="#ddd" stroke-width="3.4" />
<line x1="651.0" y1="870.5" x2="787.2" y2="870.5" stroke="#666" stroke-width="3.4" />
<line x1="651.0" y1="878.7" x2="791.5" y2="878.7" stroke="#555" stroke-width="3.4" />
<line x1="651.0" y1="903.6" x2="795.1" y2="903.6" stroke="#ddd" stroke-width="3.4" />
<line x1="651.0" y1="908.0" x2="785.3" y2="908.0" stroke="#555" stroke-width="3.4" />
<line x1="651.0" y1="915.9" x2="777.3" y2="915.9" stroke="#ddd" stroke-width="3.4" />
<line x1="651.0" y1="920.2" x2="784.5" y2="920.2" stroke="#555" stroke-width="3.4" />
<line x1="651.0" y1="947.4" x2="791.1" y2="947.4" stroke="#888" stroke-width="3.4" />
<line x1="651.0" y1="951.7" x2="786.8" y2="951.7" stroke="#eee" stroke-width="3.4" />
<line x1="651.0" y1="958.5" x2="788.1" y2="958.5" stroke="#aaa" stroke-width="5" />
<line x1="651.0" y1="984.7" x2="791.5" y2="984.7" stroke="#777" stroke-width="3.4" />
<line x1="651.0" y1="992.6" x2="779.6" y2="992.6" stroke="#ddd" stroke-width="3.4" />
<line x1="651.0" y1="997.0" x2="785.2" y2="997.0" stroke="#555" stroke-width="3.4" />
<line x1="651.0" y1="1026.2" x2="768.6" y2="1026.2" stroke="#ddd" stroke-width="3.4" />
<line x1="651.0" y1="1030.5" x2="769.0" y2="1030.5" stroke="#555" stroke-width="3.4" />
<line x1="651.0" y1="1043.0" x2="769.0" y2="1043.0" stroke="#777" stroke-width="3.4" />
<line x1="531.0" y1="1072.5" x2="1064.0" y2="1072.5" stroke="#777" stroke-width="3" />
<line x1="651.0" y1="470.0" x2="651.0" y2="1086.0" stroke="#222" stroke-width="2.8" />
<path d="M 530.00,476.00 L 530.00,515.50 Q 530.00,519.00 526.71,520.19 L 500.69,529.61 Q 497.40,530.80 497.40,534.30 L 497.40,539.30 Q 497.40,542.80 500.55,544.33 L 517.47,552.52 Q 519.50,553.50 519.50,555.75 L 519.50,556.25 Q 519.50,558.50 517.42,559.36 L 494.84,568.67 Q 491.60,570.00 491.60,573.50 L 491.60,578.50 Q 491.60,582.00 494.71,583.60 L 519.80,596.47 Q 521.80,597.50 521.80,599.75 L 521.80,600.25 Q 521.80,602.50 519.93,603.75 L 505.91,613.06 Q 503.00,615.00 503.00,618.50 L 503.00,623.50 Q 503.00,627.00 505.50,629.45 L 512.09,635.92 Q 513.70,637.50 513.70,639.75 L 513.70,640.25 Q 513.70,642.50 511.80,643.70 L 495.76,653.83 Q 492.80,655.70 492.80,659.20 L 492.80,664.20 Q 492.80,667.70 496.02,669.07 L 519.73,679.12 Q 521.80,680.00 521.80,682.25 L 521.80,682.75 Q 521.80,685.00 519.79,686.01 L 505.12,693.42 Q 502.00,695.00 502.00,698.50 L 502.00,703.50 Q 502.00,707.00 505.00,708.80 L 511.77,712.84 Q 513.70,714.00 513.70,716.25 L 513.70,716.75 Q 513.70,719.00 511.75,720.12 L 495.84,729.26 Q 492.80,731.00 492.80,734.50 L 492.80,739.50 Q 492.80,743.00 496.01,744.39 L 519.73,754.61 Q 521.80,755.50 521.80,757.75 L 521.80,758.25 Q 521.80,760.50 519.80,761.52 L 505.12,769.01 Q 502.00,770.60 502.00,774.10 L 502.00,779.10 Q 502.00,782.60 504.52,785.03 L 512.08,792.34 Q 513.70,793.90 513.70,796.15 L 513.70,796.65 Q 513.70,798.90 511.63,799.78 L 496.02,806.43 Q 492.80,807.80 492.80,811.30 L 492.80,816.30 Q 492.80,819.80 496.02,821.18 L 519.73,831.32 Q 521.80,832.20 521.80,834.45 L 521.80,834.95 Q 521.80,837.20 519.84,838.31 L 505.05,846.68 Q 502.00,848.40 502.00,851.90 L 502.00,856.90 Q 502.00,860.40 504.88,862.39 L 511.85,867.22 Q 513.70,868.50 513.70,870.75 L 513.70,871.25 Q 513.70,873.50 511.69,874.51 L 495.93,882.43 Q 492.80,884.00 492.80,887.50 L 492.80,892.50 Q 492.80,896.00 495.97,897.48 L 519.76,908.55 Q 521.80,909.50 521.80,911.75 L 521.80,912.25 Q 521.80,914.50 519.76,915.45 L 505.17,922.23 Q 502.00,923.70 502.00,927.20 L 502.00,932.20 Q 502.00,935.70 504.29,938.34 L 512.23,947.50 Q 513.70,949.20 513.70,951.45 L 513.70,951.95 Q 513.70,954.20 511.67,955.18 L 495.95,962.78 Q 492.80,964.30 492.80,967.80 L 492.80,972.80 Q 492.80,976.30 496.03,977.65 L 517.43,986.63 Q 519.50,987.50 519.50,989.75 L 519.50,990.25 Q 519.50,992.50 517.47,993.48 L 501.75,1001.08 Q 498.60,1002.60 498.60,1006.10 L 498.60,1011.10 Q 498.60,1014.60 501.77,1016.09 L 518.63,1024.01 Q 521.80,1025.50 525.25,1026.06 L 527.55,1026.44 Q 531.00,1027.00 531.00,1030.50 L 531.00,1072.00" fill="none" stroke="#1a1a1a" stroke-width="3.3" stroke-linejoin="round" />
<path d="M 770.00,476.00 L 770.00,515.50 Q 770.00,519.00 773.37,519.95 L 776.23,520.75 Q 779.60,521.70 782.96,522.67 L 801.64,528.03 Q 805.00,529.00 805.00,532.50 L 805.00,537.50 Q 805.00,541.00 801.87,542.57 L 780.81,553.19 Q 778.40,554.40 778.40,557.10 L 778.40,557.70 Q 778.40,560.40 780.98,561.19 L 806.45,568.98 Q 809.80,570.00 809.80,573.50 L 809.80,578.50 Q 809.80,582.00 806.65,583.54 L 778.43,597.32 Q 776.00,598.50 776.00,601.20 L 776.00,601.80 Q 776.00,604.50 778.47,605.59 L 797.30,613.89 Q 800.50,615.30 800.50,618.80 L 800.50,623.80 Q 800.50,627.30 797.81,629.54 L 788.57,637.27 Q 786.50,639.00 786.50,641.70 L 786.50,642.30 Q 786.50,645.00 788.99,646.05 L 806.57,653.44 Q 809.80,654.80 809.80,658.30 L 809.80,663.30 Q 809.80,666.80 806.50,667.96 L 778.55,677.80 Q 776.00,678.70 776.00,681.40 L 776.00,682.00 Q 776.00,684.70 778.52,685.66 L 797.23,692.76 Q 800.50,694.00 800.50,697.50 L 800.50,702.50 Q 800.50,706.00 797.50,707.80 L 788.82,713.01 Q 786.50,714.40 786.50,717.10 L 786.50,717.70 Q 786.50,720.40 788.96,721.52 L 806.61,729.55 Q 809.80,731.00 809.80,734.50 L 809.80,739.50 Q 809.80,743.00 806.55,744.30 L 779.81,755.00 Q 777.30,756.00 777.30,758.70 L 777.30,759.30 Q 777.30,762.00 779.74,763.16 L 797.34,771.50 Q 800.50,773.00 800.50,776.50 L 800.50,781.50 Q 800.50,785.00 797.60,786.97 L 788.73,792.98 Q 786.50,794.50 786.50,797.20 L 786.50,797.80 Q 786.50,800.50 789.04,801.43 L 806.51,807.80 Q 809.80,809.00 809.80,812.50 L 809.80,817.50 Q 809.80,821.00 806.53,822.26 L 778.52,833.03 Q 776.00,834.00 776.00,836.70 L 776.00,837.30 Q 776.00,840.00 778.55,840.88 L 797.19,847.26 Q 800.50,848.40 800.50,851.90 L 800.50,856.90 Q 800.50,860.40 797.71,862.51 L 788.65,869.37 Q 786.50,871.00 786.50,873.70 L 786.50,874.30 Q 786.50,877.00 789.05,877.88 L 806.49,883.86 Q 809.80,885.00 809.80,888.50 L 809.80,893.50 Q 809.80,897.00 806.61,898.43 L 779.76,910.49 Q 777.30,911.60 777.30,914.30 L 777.30,914.90 Q 777.30,917.60 779.84,918.52 L 797.21,924.81 Q 800.50,926.00 800.50,929.50 L 800.50,934.50 Q 800.50,938.00 798.03,940.47 L 788.41,950.09 Q 786.50,952.00 786.50,954.70 L 786.50,955.30 Q 786.50,958.00 789.07,958.83 L 806.47,964.43 Q 809.80,965.50 809.80,969.00 L 809.80,974.00 Q 809.80,977.50 806.54,978.78 L 782.11,988.41 Q 779.60,989.40 779.60,992.10 L 779.60,992.70 Q 779.60,995.40 782.20,996.14 L 801.63,1001.65 Q 805.00,1002.60 805.00,1006.10 L 805.00,1011.10 Q 805.00,1014.60 801.69,1015.75 L 785.31,1021.45 Q 782.00,1022.60 778.62,1023.51 L 767.14,1026.59 Q 765.60,1027.00 767.13,1027.45 L 767.47,1027.55 Q 769.00,1028.00 769.00,1029.59 L 769.00,1072.00" fill="none" stroke="#000" stroke-width="3.9" stroke-linejoin="round" />
<rect x="766.0" y="476.0" width="8.0" height="44.0" fill="#000" />
<rect x="774.0" y="483.0" width="4.0" height="12.0" fill="#111" />
<rect x="757.5" y="504.0" width="16.5" height="15.5" fill="#111" />
<rect x="766.0" y="1028.5" width="8.0" height="45.0" fill="#000" />
<rect x="774.0" y="1054.5" width="4.0" height="11.5" fill="#111" />
<rect x="757.5" y="1029.0" width="16.5" height="16.0" fill="#111" />
<line x1="612.0" y1="405.6" x2="755.0" y2="405.6" stroke="#666" stroke-width="3.5" />
<rect x="737.0" y="402.5" width="18.0" height="6.0" fill="#222" />
<line x1="755.0" y1="396.0" x2="755.0" y2="476.0" stroke="#555" stroke-width="2.5" />
<line x1="1060.0" y1="476.0" x2="1060.0" y2="1072.0" stroke="#555" stroke-width="3" />
<rect x="1058.0" y="477.0" width="4.0" height="16.0" fill="#333" />
<rect x="1058.0" y="1056.0" width="4.0" height="16.0" fill="#333" />
<line x1="755.0" y1="1072.0" x2="755.0" y2="1210.0" stroke="#666" stroke-width="3" />
<line x1="612.0" y1="1205.5" x2="755.0" y2="1205.5" stroke="#666" stroke-width="3.5" />
<rect x="737.0" y="1202.0" width="18.0" height="6.0" fill="#222" />
<path fill="#000" fill-rule="evenodd" d="M 613.52,351.60 A 16.68,15.78 0 1 0 646.88,351.60 A 16.68,15.78 0 1 0 613.52,351.60 Z M 622.80,351.60 A 7.40,9.34 0 1 0 637.60,351.60 A 7.40,9.34 0 1 0 622.80,351.60 Z"/>
<line x1="615.07" y1="365.63" x2="645.33" y2="337.57" stroke="#000" stroke-width="5.85"/>
<text transform="translate(662.67,366.90) scale(0.5156,0.4551)" x="0" y="0" font-family="Liberation Sans" font-weight="bold" font-size="100" fill="#000" stroke="#000" stroke-width="1.54">44</text>
<polygon points="996.70,789.47 996.70,779.70 1028.40,779.70 1028.40,789.47 1007.95,789.47 1011.76,798.60 1004.94,798.60 1001.99,793.78" fill="#000" stroke="#000" stroke-width="0.7" stroke-linejoin="round"/>
<text transform="translate(1027.95,772.89) rotate(-90) scale(0.5288,0.4465)" x="0" y="0" font-family="Liberation Sans" font-weight="bold" font-size="100" fill="#000" stroke="#000" stroke-width="1.57">20</text>
<path fill="#000" fill-rule="evenodd" d="M 602.72,1159.55 A 16.88,15.83 0 1 0 636.48,1159.55 A 16.88,15.83 0 1 0 602.72,1159.55 Z M 612.12,1159.55 A 7.48,9.37 0 1 0 627.08,1159.55 A 7.48,9.37 0 1 0 612.12,1159.55 Z"/>
<line x1="604.29" y1="1173.61" x2="634.91" y2="1145.49" stroke="#000" stroke-width="5.92"/>
<text transform="translate(652.27,1174.80) scale(0.5156,0.4551)" x="0" y="0" font-family="Liberation Sans" font-weight="bold" font-size="100" fill="#000" stroke="#000" stroke-width="1.54">44</text>
<path d="M 1183,765.5 L 1183,711 Q 1183,702.8 1191,702.8 L 1520,702.8" fill="none" stroke="#111" stroke-width="3.5"/>
<path d="M 1246.5,765.5 L 1136,765.5 Q 1122,765.5 1122,779 L 1114,1031.3" fill="none" stroke="#111" stroke-width="3.5"/>
<line x1="1309.0" y1="765.5" x2="1360.0" y2="765.5" stroke="#111" stroke-width="3.5" />
<path d="M 1246.5,1032.3 L 1090,1032.3 Q 1086.5,1032.3 1086.5,1036 L 1086.5,1055 Q 1086.5,1063.4 1100,1063.4 L 1520,1063.4" fill="none" stroke="#111" stroke-width="3.5"/>
<line x1="1517.2" y1="702.0" x2="1517.2" y2="1064.0" stroke="#111" stroke-width="3.5" />
<line x1="1246.5" y1="839.4" x2="1306.0" y2="839.4" stroke="#111" stroke-width="3.5" />
<line x1="1246.0" y1="719.1" x2="1290.0" y2="719.1" stroke="#999" stroke-width="2.6" />
<line x1="1246.0" y1="716.7" x2="1290.0" y2="716.7" stroke="#111" stroke-width="2.8" />
<line x1="1246.0" y1="725.2" x2="1286.0" y2="725.2" stroke="#999" stroke-width="2.6" />
<line x1="1246.0" y1="722.8" x2="1286.0" y2="722.8" stroke="#111" stroke-width="2.8" />
<line x1="1246.0" y1="732.1" x2="1290.0" y2="732.1" stroke="#999" stroke-width="2.6" />
<line x1="1246.0" y1="729.7" x2="1290.0" y2="729.7" stroke="#111" stroke-width="2.8" />
<line x1="1246.0" y1="740.4" x2="1286.0" y2="740.4" stroke="#999" stroke-width="2.6" />
<line x1="1246.0" y1="738.0" x2="1286.0" y2="738.0" stroke="#111" stroke-width="2.8" />
<line x1="1246.0" y1="747.3" x2="1290.0" y2="747.3" stroke="#999" stroke-width="2.6" />
<line x1="1246.0" y1="744.9" x2="1290.0" y2="744.9" stroke="#111" stroke-width="2.8" />
<line x1="1246.0" y1="754.1" x2="1286.0" y2="754.1" stroke="#999" stroke-width="2.6" />
<line x1="1246.0" y1="751.7" x2="1286.0" y2="751.7" stroke="#111" stroke-width="2.8" />
<line x1="1246.0" y1="760.2" x2="1290.0" y2="760.2" stroke="#999" stroke-width="2.6" />
<line x1="1246.0" y1="757.8" x2="1290.0" y2="757.8" stroke="#111" stroke-width="2.8" />
<line x1="1246.0" y1="767.2" x2="1286.0" y2="767.2" stroke="#999" stroke-width="2.6" />
<line x1="1246.0" y1="764.8" x2="1286.0" y2="764.8" stroke="#111" stroke-width="2.8" />
<line x1="1246.0" y1="773.9" x2="1290.0" y2="773.9" stroke="#999" stroke-width="2.6" />
<line x1="1246.0" y1="771.5" x2="1290.0" y2="771.5" stroke="#111" stroke-width="2.8" />
<line x1="1246.0" y1="781.9" x2="1286.0" y2="781.9" stroke="#999" stroke-width="2.6" />
<line x1="1246.0" y1="779.5" x2="1286.0" y2="779.5" stroke="#111" stroke-width="2.8" />
<line x1="1246.0" y1="788.7" x2="1290.0" y2="788.7" stroke="#999" stroke-width="2.6" />
<line x1="1246.0" y1="786.3" x2="1290.0" y2="786.3" stroke="#111" stroke-width="2.8" />
<line x1="1246.5" y1="673.8" x2="1246.5" y2="773.0" stroke="#111" stroke-width="3.5" />
<line x1="1246.5" y1="790.0" x2="1246.5" y2="873.0" stroke="#111" stroke-width="3.5" />
<line x1="1246.5" y1="891.3" x2="1246.5" y2="989.3" stroke="#111" stroke-width="3.5" />
<line x1="1246.5" y1="1009.0" x2="1246.5" y2="1091.0" stroke="#111" stroke-width="3.5" />
<line x1="1227.0" y1="650.3" x2="1282.5" y2="650.3" stroke="#111" stroke-width="3.5" />
<line x1="1281.3" y1="648.5" x2="1281.3" y2="703.0" stroke="#111" stroke-width="3.5" />
<line x1="1363.5" y1="1063.0" x2="1363.5" y2="1179.5" stroke="#111" stroke-width="3.5" />
<line x1="1227.0" y1="1178.0" x2="1365.0" y2="1178.0" stroke="#111" stroke-width="3.5" />
<path d="M 1283.5,703 L 1309.8,703 L 1309.8,814 A 12.1,12.1 0 0 0 1334,814 L 1334,784 A 17.6,17.6 0 0 1 1369.3,784 L 1380,1031 L 1368,1031 L 1357,786 A 4,4 0 0 0 1349,786 L 1346.5,815 A 25,24 0 0 1 1296.3,815 L 1296.3,790 L 1283.5,781 Z" fill="url(#hatch)" stroke="#111" stroke-width="3"/>
<path d="M 1361,884 L 1375,884 L 1378.5,988 L 1364.5,988 Z" fill="#2b2b2b"/>
<path d="M 1367,1031 L 1407,1031 L 1407,1055 Q 1407,1062 1400,1062 L 1371,1062 Q 1367,1062 1367,1055 Z" fill="#000"/>
<line x1="1372.0" y1="1036.0" x2="1404.0" y2="1036.0" stroke="#fff" stroke-width="1.5" stroke-dasharray="2,4"/>
<path fill="#000" fill-rule="evenodd" d="M 1218.76,625.15 A 8.54,8.08 0 1 0 1235.84,625.15 A 8.54,8.08 0 1 0 1218.76,625.15 Z M 1223.52,625.15 A 3.78,4.78 0 1 0 1231.08,625.15 A 3.78,4.78 0 1 0 1223.52,625.15 Z"/>
<line x1="1219.56" y1="632.34" x2="1235.04" y2="617.96" stroke="#000" stroke-width="2.99"/>
<polygon points="1250.74,616.90 1255.70,616.90 1255.70,633.10 1250.74,633.10 1250.74,622.65 1246.10,624.60 1246.10,621.11 1248.55,619.61" fill="#000" stroke="#000" stroke-width="0.7" stroke-linejoin="round"/>
<polygon points="1266.13,616.90 1271.20,616.90 1271.20,633.10 1266.13,633.10 1266.13,622.65 1261.40,624.60 1261.40,621.11 1263.90,619.61" fill="#000" stroke="#000" stroke-width="0.7" stroke-linejoin="round"/>
<path fill="#000" fill-rule="evenodd" d="M 1227.76,1142.25 A 8.49,8.08 0 1 0 1244.74,1142.25 A 8.49,8.08 0 1 0 1227.76,1142.25 Z M 1232.49,1142.25 A 3.76,4.78 0 1 0 1240.01,1142.25 A 3.76,4.78 0 1 0 1232.49,1142.25 Z"/>
<line x1="1228.55" y1="1149.45" x2="1243.95" y2="1135.05" stroke="#000" stroke-width="2.98"/>
<text transform="translate(1253.75,1150.56) scale(0.2733,0.2366)" x="0" y="0" font-family="Liberation Sans" font-weight="bold" font-size="100" fill="#000" stroke="#000" stroke-width="2.96">36</text>
<text transform="translate(1503.36,906.15) rotate(-90) scale(0.2743,0.2366)" x="0" y="0" font-family="Liberation Sans" font-weight="bold" font-size="100" fill="#000" stroke="#000" stroke-width="2.96">49</text>
</svg></body></html>
